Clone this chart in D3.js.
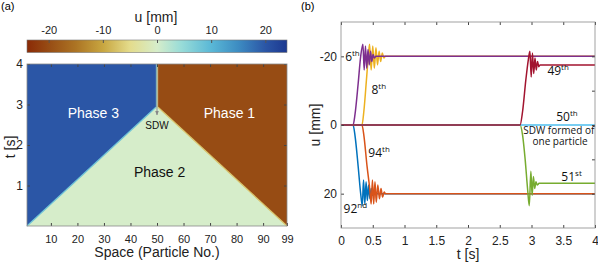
<!DOCTYPE html>
<meta charset="utf-8">
<script src="https://d3js.org/d3.v7.min.js"></script>
<style>
  body { margin: 0; background: #fff; }
  text { font-family: "Liberation Sans", Arial, sans-serif; }
</style>
<body>
<script>
// ---- data ----
// colour map of u [mm]
var cmapVals = [-24, -20, -15, -10, -5, 0, 4.5, 10, 15, 20, 24];
var cmapColors = ["#8a2a06", "#974c14", "#ac7424", "#c8a640", "#e4dc8c", "#d6edca", "#98dcd8", "#5ab8d6", "#3d8cc2", "#2b56a6", "#1c3890"];
var cbTicks = [-20, -10, 0, 10, 20];

// panel (a): space-time map, regions (particle, t) and their u value
var phase3Poly = [[1, 0], [1, 4], [49.6, 4], [49.6, 2.93]];   // u = +20
var phase1Poly = [[99, 0], [99, 4], [50.4, 4], [50.4, 2.93]]; // u = -20
var phaseVals = {p3: 20, p2: 0, p1: -20};
var sdwStrip = [[49.6, 50, 6], [50, 50.4, -4]]; // x0, x1, u
var spaceTicks = [10, 20, 30, 40, 50, 60, 70, 80, 90, 99];
var timeTicksA = [1, 2, 3, 4];
var phaseLabels = [
  {txt: "Phase 3", x: 26, t: 2.67, c: "#fff"},
  {txt: "Phase 1", x: 77.3, t: 2.67, c: "#fff"},
  {txt: "Phase 2", x: 51, t: 1.22, c: "#111"}
];

// panel (b): displacement histories [t, u]
var p92 = [[0,0],[0.19,0],[0.22,3],[0.27,12],[0.31,20],[0.335,23.5],[0.355,16],[0.375,23],[0.395,16.5],[0.415,22],[0.435,17.5],[0.455,21.5],[0.475,18.5],[0.495,20.5],[0.515,19.5],[0.54,20],[4,20]];
var p94 = [[0,0],[0.33,0],[0.36,3],[0.41,12],[0.455,19],[0.475,23],[0.495,16],[0.515,23],[0.535,16.5],[0.555,22.5],[0.58,17.5],[0.605,21.5],[0.63,18.5],[0.655,21],[0.68,19.5],[0.70,20],[4,20]];
var p8 = [[0,0],[0.33,0],[0.36,-4],[0.40,-13],[0.43,-20],[0.45,-23.5],[0.475,-16],[0.50,-23],[0.525,-16.5],[0.55,-22.5],[0.575,-17.5],[0.60,-21.5],[0.625,-18.5],[0.65,-21],[0.675,-19.5],[0.70,-20],[4,-20]];
var p6 = [[0,0],[0.19,0],[0.22,-3],[0.27,-12],[0.31,-20],[0.345,-23.5],[0.365,-16],[0.385,-23],[0.405,-16.5],[0.425,-22],[0.445,-17.5],[0.465,-21.5],[0.485,-18.5],[0.505,-20.5],[0.525,-19.5],[0.55,-20],[4,-20]];
var p51 = [[0,0],[2.82,0],[2.86,3],[2.90,10],[2.94,19],[2.965,23.5],[2.99,13.5],[3.01,20.5],[3.03,15],[3.05,18.5],[3.07,16.5],[3.09,17.5],[3.12,17],[4,17]];
var p50 = [[0,0],[4,0]];
var p49 = [[0,0],[2.82,0],[2.86,-4],[2.91,-13],[2.95,-19],[2.975,-21.5],[2.995,-14],[3.015,-21],[3.035,-15],[3.055,-19.5],[3.075,-16],[3.095,-18.5],[3.115,-17],[3.135,-17.5],[4,-17.5]];
var seriesOrder = [p92, p94, p8, p6, p51, p50, p49];
var seriesColors = ["#0072bd", "#d95319", "#edb120", "#7e2f8e", "#77ac30", "#4dbeee", "#a2142f"];
var timeTicksB = [0, 0.5, 1, 1.5, 2, 2.5, 3, 3.5, 4];
var uTicks = [-20, 0, 20];
var notes = [
  {n: "6", s: "th", t: 0.065, u: -18.5},
  {n: "8", s: "th", t: 0.48, u: -9},
  {n: "49", s: "th", t: 3.25, u: -14.5},
  {n: "50", s: "th", t: 3.39, u: -1.2},
  {n: "94", s: "th", t: 0.43, u: 9.2},
  {n: "92", s: "nd", t: 0.04, u: 25.5},
  {n: "51", s: "st", t: 3.47, u: 16.2}
];

var svg = d3.select("body").append("svg")
  .attr("width", 598).attr("height", 263);

var col = d3.scaleLinear().domain(cmapVals).range(cmapColors);
var plain = function(d) { return String(d); };

// ================= panel (a) =================
svg.append("text").attr("x", 1).attr("y", 10).style("font-size", "11px").text("(a)");

// colour bar
var cb = d3.scaleLinear().domain([-24, 24]).range([27, 287]);
var grad = svg.append("defs").append("linearGradient").attr("id", "cbar");
cmapVals.forEach(function(v) {
  grad.append("stop").attr("offset", (v + 24) / 48).attr("stop-color", col(v));
});
svg.append("rect").attr("x", cb(-24)).attr("y", 40).attr("width", cb(24) - cb(-24)).attr("height", 12.5)
  .attr("fill", "url(#cbar)").attr("stroke", "#777").attr("stroke-width", 0.6);
var cbAxis = svg.append("g").attr("transform", "translate(0,40)")
  .call(d3.axisTop(cb).tickValues(cbTicks).tickSize(-3).tickPadding(6).tickFormat(plain));
cbAxis.select(".domain").remove();
cbAxis.selectAll("line").attr("stroke", "#555");
cbAxis.selectAll("text").style("font-size", "11px").attr("fill", "#222");
svg.append("text").attr("x", 156).attr("y", 22).attr("text-anchor", "middle")
  .style("font-size", "14px").attr("fill", "#222").text("u [mm]");

// space-time map
var xa = d3.scaleLinear().domain([1, 99]).range([27, 287]);
var ya = d3.scaleLinear().domain([0, 4]).range([226, 64]);
var polyLine = d3.line().x(function(d) { return xa(d[0]); }).y(function(d) { return ya(d[1]); });

svg.append("rect").attr("x", xa(1)).attr("y", ya(4)).attr("width", xa(99) - xa(1)).attr("height", ya(0) - ya(4))
  .attr("fill", col(phaseVals.p2));
svg.append("path").attr("d", polyLine(phase3Poly) + "Z").attr("fill", col(phaseVals.p3));
svg.append("path").attr("d", polyLine(phase1Poly) + "Z").attr("fill", col(phaseVals.p1));
// wave-front edges
svg.append("path").attr("d", polyLine([phase3Poly[0], phase3Poly[3]])).attr("stroke", col(8)).attr("stroke-width", 1.3).attr("fill", "none");
svg.append("path").attr("d", polyLine([phase1Poly[0], phase1Poly[3]])).attr("stroke", col(-7)).attr("stroke-width", 1.3).attr("fill", "none");
sdwStrip.forEach(function(s) {
  svg.append("rect").attr("x", xa(s[0])).attr("y", ya(4)).attr("width", xa(s[1]) - xa(s[0]))
    .attr("height", ya(phase3Poly[3][1]) - ya(4)).attr("fill", col(s[2]));
});

// SDW arrow
svg.append("defs").append("marker").attr("id", "arr").attr("viewBox", "0 0 10 10")
  .attr("refX", 9).attr("refY", 5).attr("markerWidth", 5).attr("markerHeight", 5).attr("orient", "auto")
  .append("path").attr("d", "M0,1L10,5L0,9Z").attr("fill", "#888");
svg.append("line").attr("x1", xa(50)).attr("x2", xa(50)).attr("y1", ya(4)).attr("y2", ya(2.74))
  .attr("stroke", "#888").attr("stroke-width", 0.9).attr("marker-end", "url(#arr)");
svg.append("text").attr("x", xa(50)).attr("y", ya(2.39)).attr("text-anchor", "middle")
  .style("font-size", "10px").attr("fill", "#111").text("SDW");

svg.selectAll(".phl").data(phaseLabels).enter().append("text")
  .attr("x", function(d) { return xa(d.x); }).attr("y", function(d) { return ya(d.t); })
  .attr("text-anchor", "middle").style("font-size", "14px").attr("fill", function(d) { return d.c; })
  .text(function(d) { return d.txt; });

// axes of (a)
function styleAxis(g, fs) {
  g.select(".domain").remove();
  g.selectAll("line").attr("stroke", "#444");
  g.selectAll("text").style("font-size", fs).attr("fill", "#222");
}
styleAxis(svg.append("g").attr("transform", "translate(0,226)")
  .call(d3.axisBottom(xa).tickValues(spaceTicks).tickSize(-3).tickPadding(9).tickFormat(plain)), "11px");
styleAxis(svg.append("g").attr("transform", "translate(0,64)")
  .call(d3.axisTop(xa).tickValues(spaceTicks.slice(0, 9)).tickSize(-3).tickFormat("")), "11px");
styleAxis(svg.append("g").attr("transform", "translate(27,0)")
  .call(d3.axisLeft(ya).tickValues(timeTicksA).tickSize(-3).tickPadding(4).tickFormat(plain)), "12px");
styleAxis(svg.append("g").attr("transform", "translate(287,0)")
  .call(d3.axisRight(ya).tickValues(timeTicksA).tickSize(-3).tickFormat("")), "12px");
svg.append("rect").attr("x", xa(1)).attr("y", ya(4)).attr("width", xa(99) - xa(1)).attr("height", ya(0) - ya(4))
  .attr("fill", "none").attr("stroke", "#8a8a8a").attr("stroke-width", 0.8);

svg.append("text").attr("x", 157).attr("y", 257).attr("text-anchor", "middle")
  .style("font-size", "14px").attr("fill", "#222").text("Space (Particle No.)");
svg.append("text").attr("transform", "translate(15,147) rotate(-90)").attr("text-anchor", "middle")
  .style("font-size", "14px").attr("fill", "#222").text("t [s]");

// ================= panel (b) =================
svg.append("text").attr("x", 301).attr("y", 10).style("font-size", "11px").text("(b)");

var xb = d3.scaleLinear().domain([0, 4]).range([341, 595]);
var yb = d3.scaleLinear().domain([-30, 30]).range([22, 228]);

svg.append("clipPath").attr("id", "clipb").append("rect")
  .attr("x", xb(0)).attr("y", yb(-30)).attr("width", xb(4) - xb(0)).attr("height", yb(30) - yb(-30));

var line = d3.line().x(function(d) { return xb(d[0]); }).y(function(d) { return yb(d[1]); }).curve(d3.curveMonotoneX);
var gl = svg.append("g").attr("clip-path", "url(#clipb)");
seriesOrder.forEach(function(s, i) {
  gl.append("path").attr("d", line(s)).attr("fill", "none")
    .attr("stroke", seriesColors[i]).attr("stroke-width", 1.5);
});

styleAxis(svg.append("g").attr("transform", "translate(0,228)")
  .call(d3.axisBottom(xb).tickValues(timeTicksB).tickSize(-3).tickPadding(8).tickFormat(plain)), "12px");
styleAxis(svg.append("g").attr("transform", "translate(0,22)")
  .call(d3.axisTop(xb).tickValues(timeTicksB).tickSize(-3).tickFormat("")), "12px");
styleAxis(svg.append("g").attr("transform", "translate(341,0)")
  .call(d3.axisLeft(yb).tickValues(uTicks).tickSize(-3).tickPadding(4).tickFormat(plain)), "12px");
styleAxis(svg.append("g").attr("transform", "translate(595,0)")
  .call(d3.axisRight(yb).tickValues([-20, -10, 0, 10, 20]).tickSize(-3).tickFormat("")), "12px");
svg.append("rect").attr("x", xb(0)).attr("y", yb(-30)).attr("width", xb(4) - xb(0)).attr("height", yb(30) - yb(-30))
  .attr("fill", "none").attr("stroke", "#8a8a8a").attr("stroke-width", 0.8);

svg.append("text").attr("x", xb(2)).attr("y", 259).attr("text-anchor", "middle")
  .style("font-size", "14px").attr("fill", "#222").text("t [s]");
svg.append("text").attr("transform", "translate(320," + yb(0) + ") rotate(-90)").attr("text-anchor", "middle")
  .style("font-size", "14px").attr("fill", "#222").text("u [mm]");

// annotations
var nt = svg.selectAll(".note").data(notes).enter().append("text")
  .attr("x", function(d) { return xb(d.t); }).attr("y", function(d) { return yb(d.u); })
  .style("font-family", "'Open Sans', sans-serif").style("font-size", "12px").attr("fill", "#111");
nt.append("tspan").text(function(d) { return d.n; });
nt.append("tspan").attr("dy", -5).style("font-size", "8px").text(function(d) { return d.s; });

svg.append("text").attr("x", xb(3.43)).attr("y", yb(2.5)).attr("text-anchor", "middle")
  .style("font-family", "'Open Sans', sans-serif").style("font-size", "10px").attr("fill", "#111").text("SDW formed of");
svg.append("text").attr("x", xb(3.45)).attr("y", yb(5.7)).attr("text-anchor", "middle")
  .style("font-family", "'Open Sans', sans-serif").style("font-size", "10px").attr("fill", "#111").text("one particle");
</script>
</body>
